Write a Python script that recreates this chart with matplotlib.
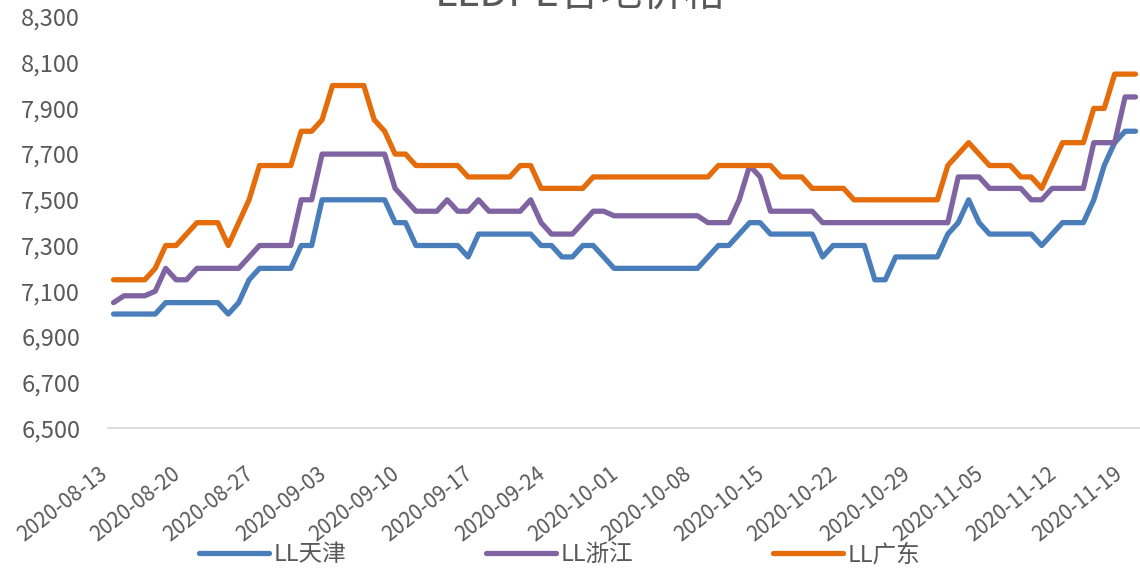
import numpy as np
import pandas as pd
import matplotlib
matplotlib.use("Agg")
from matplotlib import pyplot as plt
import matplotlib.dates as mdates
from matplotlib.ticker import FuncFormatter

plt.rcParams['font.family'] = ['Noto Sans CJK SC', 'DejaVu Sans']

# daily prices, 2020-08-13 .. 2020-11-19
start_date = "2020-08-13"
n_days = 99

tianjin = ([7000] * 5 + [7050] * 6 + [7000, 7050, 7150] + [7200] * 4 + [7300] * 2
           + [7500] * 7 + [7400] * 2 + [7300] * 5 + [7250] + [7350] * 6
           + [7300] * 2 + [7250] * 2 + [7300] * 2 + [7250] + [7200] * 9
           + [7250, 7300, 7300, 7350, 7400, 7400] + [7350] * 5 + [7250]
           + [7300] * 4 + [7150] * 2 + [7250] * 5 + [7350, 7400, 7500, 7400]
           + [7350] * 5 + [7300, 7350] + [7400] * 3 + [7500, 7650, 7750, 7800, 7800])

zhejiang = ([7050] + [7080] * 3 + [7100, 7200, 7150, 7150] + [7200] * 5 + [7250]
            + [7300] * 4 + [7500] * 2 + [7700] * 7 + [7550, 7500] + [7450] * 3
            + [7500] + [7450] * 2 + [7500] + [7450] * 4 + [7500, 7400] + [7350] * 3
            + [7400] + [7450] * 2 + [7430] * 9 + [7400] * 3 + [7500, 7650, 7600]
            + [7450] * 5 + [7400] * 13 + [7600] * 3 + [7550] * 4 + [7500] * 2
            + [7550] * 4 + [7750] * 3 + [7950] * 2)

guangdong = ([7150] * 4 + [7200] + [7300] * 2 + [7350] + [7400] * 3 + [7300, 7400, 7500]
             + [7650] * 4 + [7800] * 2 + [7850] + [8000] * 4 + [7850, 7800]
             + [7700] * 2 + [7650] * 5 + [7600] * 5 + [7650] * 2 + [7550] * 5
             + [7600] * 12 + [7650] * 6 + [7600] * 3 + [7550] * 4 + [7500] * 9
             + [7650, 7700, 7750, 7700] + [7650] * 3 + [7600] * 2 + [7550, 7650]
             + [7750] * 3 + [7900] * 2 + [8050] * 3)

series_names = ['LL天津', 'LL浙江', 'LL广东']
series_colors = ['#4A7EBB', '#8064A2', '#E46C0A']
title = 'LLDPE各地价格'

dates = pd.date_range(start_date, periods=n_days, freq='D')
tick_dates = pd.date_range(start_date, periods=15, freq='7D')

fig = plt.figure(figsize=(11.4, 5.72), dpi=100)
ax = fig.add_axes([108 / 1140, 0.2512, 1032 / 1140, 0.7191])

for vals, name, col in zip([tianjin, zhejiang, guangdong], series_names, series_colors):
    ax.plot(dates, vals, color=col, lw=3.8, label=name,
            solid_capstyle='round', solid_joinstyle='round', clip_on=False)

ax.set_ylim(6500, 8300)
ax.set_yticks(np.arange(6500, 8301, 200))
ax.yaxis.set_major_formatter(FuncFormatter(lambda v, p: f'{int(v):,}'))
ax.set_xlim(dates[0] - pd.Timedelta(days=0.53), dates[-1] + pd.Timedelta(days=0.43))
ax.set_xticks(tick_dates)
ax.set_xticklabels([])

# rotated date labels, placed by hand so the last one stays inside the figure
for i, d in enumerate(tick_dates):
    dx = -15 if i == len(tick_dates) - 1 else -9
    xnum = mdates.date2num(d.to_pydatetime())
    ax.annotate(d.strftime('%Y-%m-%d'), xy=(xnum, 0), xycoords=ax.get_xaxis_transform(),
                xytext=(dx, -43), textcoords='offset pixels', rotation=38,
                ha='right', va='center', rotation_mode='anchor',
                fontsize=15, color='#595959', annotation_clip=False)

for s in ['top', 'right', 'left']:
    ax.spines[s].set_visible(False)
ax.spines['bottom'].set_color('#D9D9D9')
ax.spines['bottom'].set_linewidth(1.2)

ax.tick_params(axis='y', length=0, pad=20, labelsize=17, labelcolor='#595959')
ax.tick_params(axis='x', length=0)

fig.text(0.509, 0.9904, title, fontsize=30, ha='center', va='baseline', color='#595959')

leg = fig.legend(loc='center', bbox_to_anchor=(0.491, 0.030), ncol=3, frameon=False,
                 fontsize=17, handlelength=2.97, handletextpad=0.2, columnspacing=5.9)
for t in leg.get_texts():
    t.set_color('#595959')

fig.savefig('out.png', dpi=100)
